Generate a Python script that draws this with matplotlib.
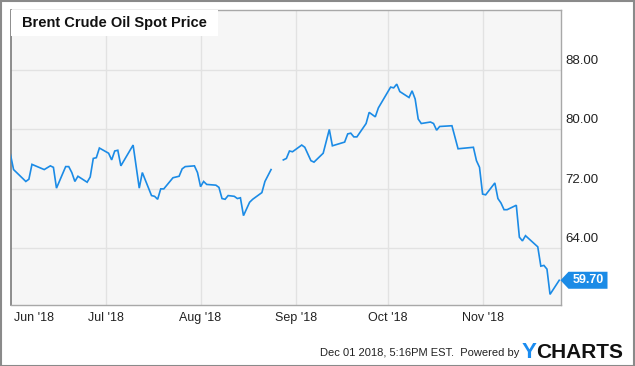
import matplotlib
matplotlib.use('Agg')
import matplotlib.pyplot as plt
import matplotlib.dates as mdates
from matplotlib.patches import Polygon, Rectangle
from matplotlib.transforms import offset_copy, blended_transform_factory
import numpy as np
import pandas as pd

plt.rcParams['font.family'] = ['Liberation Sans', 'DejaVu Sans']

# Brent spot price (nan = missing day, gap in line)
dates = ['2018-05-31', '2018-06-01', '2018-06-05', '2018-06-06', '2018-06-07',
         '2018-06-11', '2018-06-13', '2018-06-14', '2018-06-15', '2018-06-18',
         '2018-06-19', '2018-06-20', '2018-06-21', '2018-06-22', '2018-06-25',
         '2018-06-26', '2018-06-27', '2018-06-28', '2018-06-29', '2018-07-02',
         '2018-07-03', '2018-07-04', '2018-07-05', '2018-07-06', '2018-07-10',
         '2018-07-12', '2018-07-13', '2018-07-16', '2018-07-17', '2018-07-18',
         '2018-07-19', '2018-07-20', '2018-07-23', '2018-07-25', '2018-07-26',
         '2018-07-27', '2018-07-30', '2018-07-31', '2018-08-01', '2018-08-02',
         '2018-08-03', '2018-08-06', '2018-08-07', '2018-08-08', '2018-08-09',
         '2018-08-10', '2018-08-12', '2018-08-13', '2018-08-14', '2018-08-15',
         '2018-08-17', '2018-08-18', '2018-08-21', '2018-08-22', '2018-08-24',
         '2018-08-27', '2018-08-28', '2018-08-29', '2018-08-30', '2018-08-31',
         '2018-09-03', '2018-09-04', '2018-09-06', '2018-09-07', '2018-09-10',
         '2018-09-12', '2018-09-13', '2018-09-17', '2018-09-18', '2018-09-19',
         '2018-09-20', '2018-09-21', '2018-09-24', '2018-09-25', '2018-09-27',
         '2018-09-28', '2018-10-02', '2018-10-03', '2018-10-04', '2018-10-05',
         '2018-10-08', '2018-10-09', '2018-10-10', '2018-10-11', '2018-10-12',
         '2018-10-15', '2018-10-16', '2018-10-17', '2018-10-18', '2018-10-22',
         '2018-10-24', '2018-10-29', '2018-10-30', '2018-10-31', '2018-11-01',
         '2018-11-02', '2018-11-05', '2018-11-06', '2018-11-07', '2018-11-08',
         '2018-11-09', '2018-11-12', '2018-11-13', '2018-11-14', '2018-11-15',
         '2018-11-19', '2018-11-20', '2018-11-21', '2018-11-22', '2018-11-23',
         '2018-11-26']
prices = [76.6, 74.6, 73.0, 73.3, 75.3,
          74.6, 75.1, 74.9, 72.1, 75.0,
          75.0, 74.2, 73.0, 73.7, 72.9,
          73.6, 76.1, 76.2, 77.5, 76.8,
          75.9, 77.1, 77.2, 75.1, 77.9,
          72.1, 74.2, 71.1, 71.0, 70.6,
          72.0, 72.0, 73.5, 73.7, 74.7,
          75.0, 75.1, 74.2, 72.3, 73.0,
          72.6, 72.5, 72.2, 70.7, 70.6,
          71.1, 71.0, 70.7, 70.8, 68.4,
          70.2, 70.6, 71.5, 73.0, 74.6,
          np.nan, 75.9, 76.1, 77.1, 77.0,
          77.9, 77.6, 75.8, 75.6, 76.8,
          80.0, 77.8, 78.3, 79.4, 79.5,
          79.0, 79.0, 80.8, 82.3, 81.7,
          82.9, 85.7, 85.6, 86.1, 85.1,
          84.3, 85.2, 84.1, 81.4, 80.8,
          81.0, 80.8, 79.9, 80.4, 80.5,
          77.4, 77.6, 75.8, 74.9, 71.3,
          71.2, 72.8, 70.7, 70.1, 69.2,
          69.2, 69.8, 65.5, 65.0, 65.7,
          64.2, 61.6, 61.7, 61.2, 57.8,
          59.7]

y_ticks = [64, 72, 80, 88]
month_ticks = ['2018-06-01', '2018-07-01', '2018-08-01', '2018-09-01', '2018-10-01', '2018-11-01']
month_labels = ["Jun '18", "Jul '18", "Aug '18", "Sep '18", "Oct '18", "Nov '18"]
last_label = '59.70'

line_color = '#1b8be6'
x = pd.to_datetime(dates)
mt = pd.to_datetime(month_ticks)

fig = plt.figure(figsize=(6.35, 3.66), dpi=100)
ax = fig.add_axes([10.5 / 635, 1 - 305 / 366, 550 / 635, 295 / 366])
ax.set_facecolor('#f6f6f6')

ax.plot(x, prices, color=line_color, lw=1.2, solid_joinstyle='miter', zorder=3)

ax.set_xlim(pd.Timestamp('2018-05-31'), pd.Timestamp('2018-11-26 10:00'))
ax.set_ylim(56.37, 96.08)

# grid
for v in y_ticks:
    ax.axhline(v, color='#e2e2e2', lw=1, zorder=1)
for d in mt[1:]:
    ax.axvline(d, color='#e2e2e2', lw=1, zorder=1)

for s in ['top', 'bottom', 'right']:
    ax.spines[s].set_color('#a8a8a8')
    ax.spines[s].set_linewidth(1)
ax.spines['left'].set_color('#7a7a7a')
ax.spines['left'].set_linewidth(1.2)

# x labels
ax.set_xticks(mt)
ax.set_xticklabels(month_labels, fontsize=9, color='#222222')
ax.get_xticklabels()[0].set_horizontalalignment('left')
ax.tick_params(axis='x', length=0, pad=5)
ax.set_yticks([])

# y labels on the right, just above gridlines
ytr = offset_copy(blended_transform_factory(ax.transAxes, ax.transData), fig=fig, x=3.3, y=6.5, units='points')
for v in y_ticks:
    ax.text(1.0, v, '%.2f' % v, transform=ytr, fontsize=9.5, color='#222222',
            ha='left', va='center', clip_on=False)

# title box
ax.add_patch(Rectangle((0, 0.912), 0.377, 0.088, transform=ax.transAxes,
                       facecolor='white', edgecolor='none', zorder=4))
ax.text(0.0205, 0.956, 'Brent Crude Oil Spot Price', transform=ax.transAxes,
        fontsize=10.5, fontweight='bold', color='#111111', va='center', zorder=5)

# last value tag
fig.canvas.draw()
tx, ty = ax.transData.transform((mdates.date2num(x[-1]), prices[-1]))
tx = ax.transAxes.transform((1.0, 0))[0]
tag = Polygon([(tx, ty), (tx + 8, ty + 8.5), (tx + 47, ty + 8.5), (tx + 47, ty - 8.5), (tx + 8, ty - 8.5)],
              closed=True, transform=None, facecolor=line_color, edgecolor='none', zorder=6)
fig.patches.append(tag)
fig.text((tx + 28) / 635, ty / 366, last_label, color='white', fontsize=9,
         fontweight='bold', ha='center', va='center', zorder=7)

# outer frame
fig.patches.append(Rectangle((0.5 / 635, 0.5 / 366), 633.5 / 635, 364.5 / 366, transform=fig.transFigure,
                             fill=False, edgecolor='#8a8a8a', lw=1.5))

# footer
fig.text(519 / 635, 1 - 353 / 366, 'Dec 01 2018, 5:16PM EST.  Powered by', fontsize=8,
         color='#222222', ha='right', va='center')
fig.text(522 / 635, 1 - 352 / 366, 'Y', fontsize=16, fontweight='bold', color='#1a8cf0',
         ha='left', va='center')
fig.text(536 / 635, 1 - 352 / 366, 'CHARTS', fontsize=15, fontweight='bold', color='#111111',
         ha='left', va='center')

fig.savefig('out.png', dpi=100)
